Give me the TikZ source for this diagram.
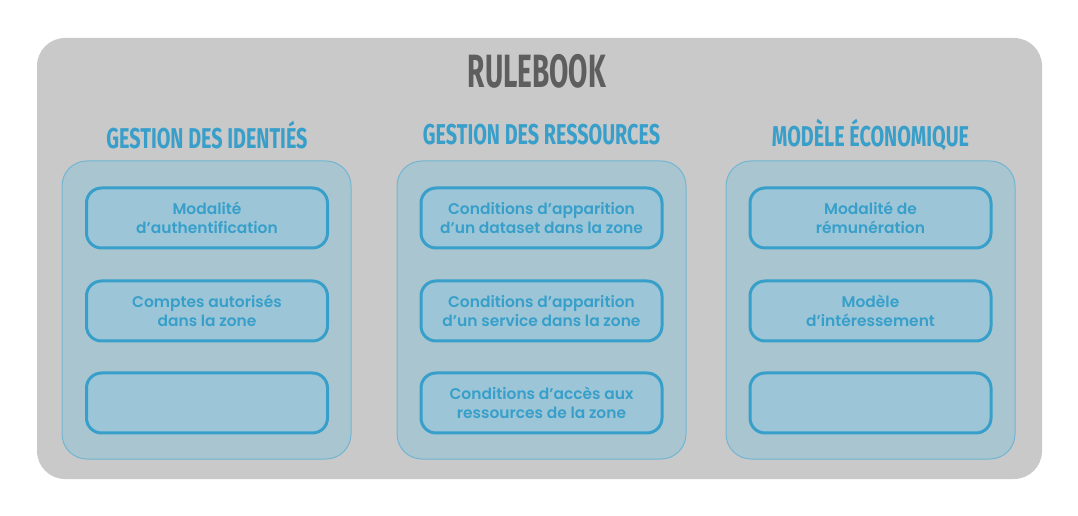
\documentclass[tikz,border=0pt]{standalone}
\usepackage{fontspec}
\usepackage{graphicx}
\usetikzlibrary{positioning}
\newfontfamily\boxfont{Poppins SemiBold}
\newfontfamily\runefont{Fira Sans}
\newlength\px
\setlength\px{0.75pt}
\definecolor{bgGray}{HTML}{C9C9C9}
\definecolor{panelFill}{HTML}{A9C6D0}
\definecolor{panelLine}{HTML}{72B5D2}
\definecolor{boxFill}{HTML}{9CC6D7}
\definecolor{boxBlue}{HTML}{379FCA}
\definecolor{titleGray}{HTML}{5E5E5E}

\begin{document}
\begin{tikzpicture}[x=\px, y=-\px,
  outer/.style = {fill=bgGray, rounded corners=28*\px, minimum width=1005*\px, minimum height=441*\px},
  panel/.style = {draw=panelLine, line width=1*\px, fill=panelFill, rounded corners=25*\px, minimum width=289*\px, minimum height=298*\px},
  rule/.style = {draw=boxBlue, line width=3*\px, fill=boxFill, rounded corners=15*\px, minimum width=241*\px, minimum height=60*\px, align=center, text=boxBlue, font=\boxfont\fontsize{11.6}{14.6}\selectfont},
  head/.style = {text=boxBlue, inner sep=0pt, font=\runefont\bfseries\fontsize{21.5}{22}\selectfont},
  title/.style = {text=titleGray, inner sep=0pt, font=\runefont\bfseries\fontsize{35}{36}\selectfont}]
  \useasboundingbox (0,0) rectangle (1078,516);
  \fill[white] (0,0) rectangle (1078,516);
  \node[outer] (book) at (539.5,258.5) {};
  \node[title] (rulebook) at (537,71) {\scalebox{0.6}[1]{RULEBOOK}};
  % colonnes
  \node[panel] (identites) at (206.5,310) {};
  \node[panel] (ressources) at (541.5,310) {};
  \node[panel] (economie) at (870.5,310) {};
  \node[head] (hIdentites) at (207,135) {\scalebox{0.69}[1]{GESTION DES IDENTIÉS}};
  \node[head] (hRessources) at (541.5,135) {\scalebox{0.69}[1]{GESTION DES RESSOURCES}};
  \node[head] (hEconomie) at (870.5,135) {\scalebox{0.69}[1]{MODÈLE ÉCONOMIQUE}};
  % regles
  \node[rule] (auth) at (207,218) {Modalité\\d’authentification};
  \node[rule] (comptes) [below=30*\px of auth] {Comptes autorisés\\dans la zone};
  \node[rule] (vide1) [below=29*\px of comptes] {};
  \node[rule] (dataset) at (541.5,218) {Conditions d’apparition\\d’un dataset dans la zone};
  \node[rule] (service) [below=30*\px of dataset] {Conditions d’apparition\\d’un service dans la zone};
  \node[rule] (acces) [below=29*\px of service] {Conditions d’accès aux\\ressources de la zone};
  \node[rule] (remun) at (870.5,218) {Modalité de\\rémunération};
  \node[rule] (interet) [below=30*\px of remun] {Modèle\\d’intéressement};
  \node[rule] (vide2) [below=29*\px of interet] {};
\end{tikzpicture}
\end{document}
